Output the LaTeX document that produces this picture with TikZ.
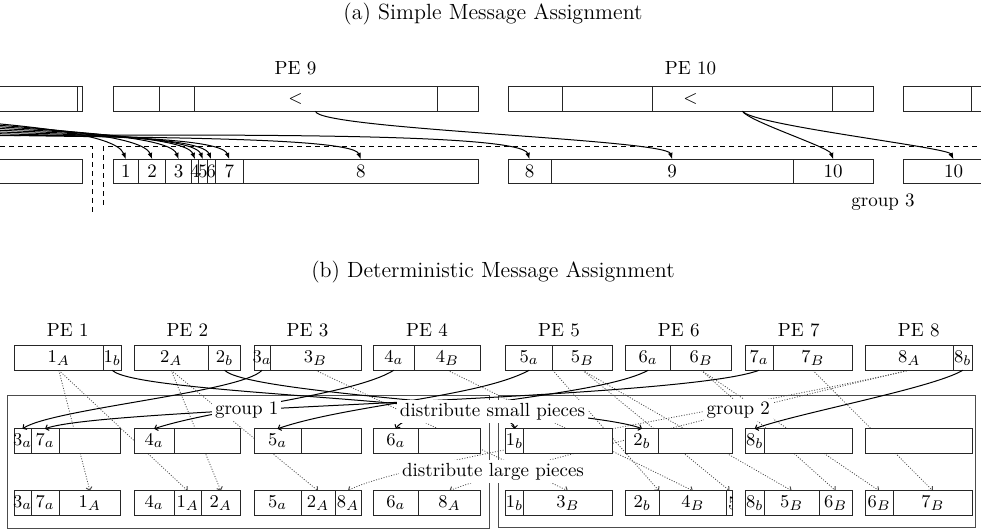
\documentclass[tikz,border=0pt]{standalone}
\usetikzlibrary{arrows.meta,positioning,backgrounds}

\tikzset{
  cell/.style={draw=black!85,fill=white,line width=0.5pt,minimum height=12.25pt,inner sep=0pt,outer sep=0pt},
  txt/.style={font=\fontsize{9.5}{11}\selectfont,inner sep=0pt},
  heading/.style={font=\fontsize{11}{13}\selectfont},
  tagbox/.style={txt,fill=white,inner sep=1.5pt},
  msg/.style={line width=0.5pt,-{Latex[length=3.2pt,width=2.4pt]}},
  smallmsg/.style={line width=0.5pt,-{Straight Barb[length=1.4pt,width=3pt]}},
  largemsg/.style={line width=0.4pt,black!70,dash pattern=on 0.5pt off 0.8pt,-{Straight Barb[length=1.4pt,width=3pt,line width=0.5pt]}},
  grpframe/.style={draw=black!70,line width=0.5pt},
  cutline/.style={line width=0.5pt,dash pattern=on 2.5pt off 2pt},
}

% one row of cells: y of the row, then name/left/right/text
\newcommand\cellrow[2]{%
  \foreach \nm/\xa/\xb/\tx in {#2}
    \node[cell,minimum width={(\xb-\xa)*0.5pt},label={[txt]center:\tx}] (\nm) at ({(\xa+\xb)/2},#1) {};
}

\begin{document}
\begin{tikzpicture}[x=0.5pt,y=-0.5pt]
\useasboundingbox (0,0) rectangle (981,529);
\clip (0,0) rectangle (981,529);

% (a)
\node[heading] (capa) at (493,14) {(a) Simple Message Assignment};
\node[txt] (pe9) at (295.5,68) {PE 9};
\node[txt] (pe10) at (690.5,68) {PE 10};

\cellrow{99}{aL1/-10/77/{},aL2/77/82/{},
  P9a/113/159/{},P9b/159/194/{},P9c/194/437/{},P9d/437/478/{},
  P10a/508/562.7/{},P10b/562.7/652.3/{},P10c/652.3/832.7/{},P10d/832.7/873/{},
  aR1/903/971/{},aR2/971/1000/{}}
\node[txt] (lt9) at (295.5,99) {$<$};
\node[txt] (lt10) at (690.5,99) {$<$};

\cellrow{171.5}{aLq/-10/82/{},
  Q1/113/138.7/1,Q2/138.7/165.7/2,Q3/165.7/191.7/3,Q4/191.7/198.3/4,
  Q5/198.3/207.3/5,Q6/207.3/215/6,Q7/215/243.7/7,Q8/243.7/478/8,
  R8/508/551/8,R9/551/793.3/9,R10/793.3/873/10,
  aRq/903/1004/10}

\foreach \k in {1,...,8}{
  \coordinate (in\k) at (-60,117+2*\k);
  \draw[msg] (in\k) .. controls +(80,6) and +(-10,-26) .. (Q\k.north);
}
\coordinate (in9) at (-60,136);
\draw[msg] (in9) .. controls +(300,-2) and +(-8,-26) .. (R8.north);
\draw[msg] (P9c.south) .. controls +(2,18) and +(-6,-20) .. (R9.north);
\draw[msg] (P10c.south) .. controls +(6,10) and +(-4,-12) .. (R10.north);
\draw[msg] (P10c.south) .. controls +(10,14) and +(-6,-12) .. (aRq.north);

\draw[cutline] (0,146.7) -| (92.7,212);
\draw[cutline] (103.3,205) |- (990,146.7);
\node[txt] (g3) at (883,202) {group 3};

% (b)
\node[heading] (capb) at (493,272) {(b) Deterministic Message Assignment};
\foreach \n/\x in {1/67.7,2/187.4,3/307.5,4/427,5/559,6/678.7,7/798.7,8/918.7}
  \node[txt] (pe\n) at (\x,330) {PE \n};

\cellrow{358}{t1A/14.3/103.3/$1_A$,t1b/103.3/121/$1_b$,
  t2A/134/208.3/$2_A$,t2b/208.3/240.7/$2_b$,
  t3a/254/270/$3_a$,t3B/270/361/$3_B$,
  t4a/373.3/414.3/$4_a$,t4B/414.3/480.7/$4_B$,
  t5a/505.7/552.7/$5_a$,t5B/552.7/612.3/$5_B$,
  t6a/625.7/670.7/$6_a$,t6B/670.7/731.7/$6_B$,
  t7a/745/773.3/$7_a$,t7B/773.3/852.3/$7_B$,
  t8A/865/953.3/$8_A$,t8b/953.3/972.3/$8_b$}

\cellrow{441}{m1a/14/31/$3_a$,m1b/31/59/$7_a$,m1c/59/120.7/{},
  m2a/134/174.3/$4_a$,m2b/174.3/240.7/{},
  m3a/254/301/$5_a$,m3b/301/361/{},
  m4a/373.3/418.3/$6_a$,m4b/418.3/480.7/{},
  m5a/505.7/523.3/$1_b$,m5b/523.3/612.3/{},
  m6a/625.7/658.3/$2_b$,m6b/658.3/732.3/{},
  m7a/745/764.3/$8_b$,m7b/764.3/852.3/{},
  m8a/865/972.3/{}}

\cellrow{503}{b1a/14/31/$3_a$,b1b/31/59/$7_a$,b1c/59/120.7/$1_A$,
  b2a/134/174.3/$4_a$,b2b/174.3/201/$1_A$,b2c/201/240.7/$2_A$,
  b3a/254/301/$5_a$,b3b/301/335/$2_A$,b3c/335/361/$8_A$,
  b4a/373.3/418.3/$6_a$,b4b/418.3/480.7/$8_A$,
  b5a/505.7/523.3/$1_b$,b5b/523.3/612.3/$3_B$,
  b6a/625.7/659/$2_b$,b6b/659/726.7/$4_B$,b6c/726.7/732.3/{},
  b7a/745/764.3/$8_b$,b7b/764.3/819/$5_B$,b7c/819/852.3/$6_B$,
  b8a/865/893.3/$6_B$,b8b/893.3/972.3/$7_B$}
\begin{scope}
  \clip (b6c.south west) rectangle (b6c.north east);
  \node[txt,anchor=west] (b6t) at ([xshift=0.5pt]b6c.west) {5};
\end{scope}

\begin{scope}[on background layer]
  \draw[grpframe] (7.3,395.7) rectangle (489,528.5);
  \draw[grpframe] (498,395.7) rectangle (975,527.5);
  \foreach \s/\d in {t1A/b1c,t1A/b2b,t2A/b2c,t2A/b3b,t3B/b5b,t4B/b6b,
                     t5B/b6c,t5B/b7b,t6B/b7c,t6B/b8a,t7B/b8b}
    \draw[largemsg] (\s.south) -- (\d.north);
  \draw[largemsg] (t5B.south west) -- (b6b.north west);
  \draw[largemsg] (t8A.south) .. controls +(-150,35) and +(52,-29) .. (b3c.north);
  \draw[largemsg] (t8A.south) .. controls +(-150,35) and +(50,-21) .. (b4b.north);
\end{scope}

\foreach \s/\d/\ax/\ay/\bx/\by in {t3a/m1a/-20/22/30/-20,t7a/m1b/-80/30/60/-22,
    t4a/m2a/-40/25/60/-20,t5a/m3a/-50/27/70/-24,t6a/m4a/-50/27/15/-25,
    t1b/m5a/25/25/0/-30,t2b/m6a/25/25/-50/-20,t8b/m7a/-30/18/40/-15}
  \draw[smallmsg] (\s.south) .. controls +(\ax,\ay) and +(\bx,\by) .. (\d.north);

\node[tagbox] (grp1) at (246.7,410) {group 1};
\node[tagbox] (dsp) at (492.5,411.7) {distribute small pieces};
\node[tagbox] (grp2) at (738.3,410) {group 2};
\node[tagbox] (dlp) at (493,471.7) {distribute large pieces};
\end{tikzpicture}
\end{document}
